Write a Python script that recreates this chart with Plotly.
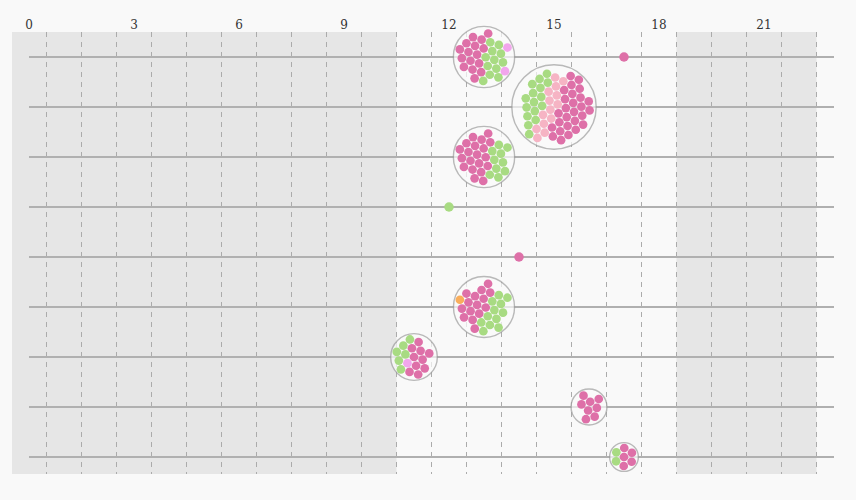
import math
import plotly.graph_objects as go

# one entry per group of dots: which row, which hour, and how many of each colour
rows = [0, 0, 1, 2, 3, 4, 5, 6, 7, 8]
hours = [13, 17, 15, 13, 12, 14, 13, 11, 16, 17]
pink = [16, 1, 27, 20, 0, 1, 15, 10, 8, 5]
green = [12, 0, 16, 10, 1, 0, 12, 6, 0, 2]
light_pink = [0, 0, 14, 0, 0, 0, 0, 0, 0, 0]
lavender = [2, 0, 0, 0, 0, 0, 0, 1, 0, 0]
orange = [0, 0, 0, 0, 0, 0, 1, 0, 0, 0]

tick_hours = [0, 3, 6, 9, 12, 15, 18, 21]
n_rows = 9

colors = {
    "pink": "#de70a8",
    "green": "#a8db82",
    "light_pink": "#f6b4c4",
    "lavender": "#f2a6ec",
    "orange": "#f9ae5c",
}
# colour order inside each bubble, swept along a slanted direction
orders = [
    ["pink", "green", "lavender"],
    ["pink"],
    ["green", "light_pink", "pink"],
    ["pink", "green"],
    ["green"],
    ["pink"],
    ["orange", "pink", "green"],
    ["green", "lavender", "pink"],
    ["pink"],
    ["green", "pink"],
]

counts = {
    "pink": pink,
    "green": green,
    "light_pink": light_pink,
    "lavender": lavender,
    "orange": orange,
}

PX_X = 35.0  # pixels per hour
PX_Y = 50.0  # pixels per row
DOT = 8.7
GAP = 9.0
SPREAD = 4.2


def push(pts):
    n = len(pts)
    for i in range(n):
        for j in range(i + 1, n):
            dx = pts[j][0] - pts[i][0]
            dy = pts[j][1] - pts[i][1]
            d = math.hypot(dx, dy) or 1e-6
            if d < GAP:
                m = (GAP - d) / 2 / d
                pts[i][0] -= dx * m
                pts[i][1] -= dy * m
                pts[j][0] += dx * m
                pts[j][1] += dy * m


def pack(n):
    # sunflower start, then squeeze toward the middle while dots push apart
    golden = math.pi * (3 - math.sqrt(5))
    pts = []
    for k in range(n):
        rr = SPREAD * math.sqrt(k + 0.5)
        pts.append([rr * math.cos(k * golden), rr * math.sin(k * golden)])
    for it in range(300):
        for p in pts:
            d = math.hypot(*p)
            if d > 0.3:
                p[0] -= 0.3 * p[0] / d
                p[1] -= 0.3 * p[1] / d
        for _ in range(3):
            push(pts)
    for _ in range(40):
        push(pts)
    # rough smallest enclosing circle
    cx = sum(p[0] for p in pts) / n
    cy = sum(p[1] for p in pts) / n
    for it in range(1, 2000):
        far = max(pts, key=lambda p: math.hypot(p[0] - cx, p[1] - cy))
        cx += (far[0] - cx) / (it + 1)
        cy += (far[1] - cy) / (it + 1)
    pts = [(p[0] - cx, p[1] - cy) for p in pts]
    rad = max(math.hypot(*p) for p in pts) + DOT / 2 + 1.0
    return pts, rad


fig = go.Figure()

# row lines
for r in range(n_rows):
    fig.add_trace(go.Scatter(
        x=[0, 23], y=[r, r], mode="lines",
        line=dict(color="#b0b0b0", width=1.8),
        hoverinfo="skip", showlegend=False
    ))

dot_x = {k: [] for k in colors}
dot_y = {k: [] for k in colors}
single_x = {k: [] for k in colors}
single_y = {k: [] for k in colors}
ring_x, ring_y, ring_s = [], [], []

for g in range(len(rows)):
    labels = []
    for c in orders[g]:
        labels += [c] * counts[c][g]
    n = len(labels)
    if n == 1:
        single_x[labels[0]].append(hours[g])
        single_y[labels[0]].append(rows[g])
        continue
    pts, rad = pack(n)
    pts.sort(key=lambda p: p[0] + 0.3 * p[1])
    ring_x.append(hours[g])
    ring_y.append(rows[g])
    ring_s.append(2 * rad)
    for (px, py), c in zip(pts, labels):
        dot_x[c].append(hours[g] + px / PX_X)
        dot_y[c].append(rows[g] + py / PX_Y)

fig.add_trace(go.Scatter(
    x=ring_x, y=ring_y, mode="markers",
    marker=dict(size=ring_s, color="#fbfbfb", line=dict(color="#9e9e9e", width=1.4)),
    hoverinfo="skip", showlegend=False, cliponaxis=False
))

for c, col in colors.items():
    fig.add_trace(go.Scatter(
        x=dot_x[c], y=dot_y[c], mode="markers",
        marker=dict(size=DOT, color=col, line=dict(width=0)),
        showlegend=False, cliponaxis=False
    ))
    fig.add_trace(go.Scatter(
        x=single_x[c], y=single_y[c], mode="markers",
        marker=dict(size=9.5, color=col, line=dict(width=0)),
        showlegend=False, cliponaxis=False
    ))

for x0, x1 in [(-0.5, 10.5), (18.5, 22.5)]:
    fig.add_shape(
        type="rect", x0=x0, x1=x1, y0=0, y1=1, yref="paper",
        fillcolor="#e6e6e6", line=dict(width=0), layer="below"
    )

fig.update_xaxes(
    side="top",
    range=[(12 - 29) / PX_X, (840 - 29) / PX_X],
    tickvals=tick_hours,
    ticktext=[str(t) for t in tick_hours],
    showgrid=False,
    zeroline=False,
    showline=False,
    ticks="",
    tickfont=dict(family="DejaVu Serif", size=12, color="#333"),
    minor=dict(
        tick0=0.5, dtick=1, showgrid=True,
        gridcolor="#ababab", gridwidth=1, griddash="5px,5px"
    ),
    fixedrange=True
)

fig.update_yaxes(
    range=[8.34, -0.5],
    showgrid=False,
    zeroline=False,
    showticklabels=False,
    fixedrange=True
)

fig.update_layout(
    width=856,
    height=500,
    margin=dict(l=12, r=16, t=32, b=26),
    paper_bgcolor="#f9f9f9",
    plot_bgcolor="#f9f9f9",
)

fig.write_html(
    "out.html",
    config={"displayModeBar": False},
    post_script="document.body.style.margin='0';document.body.style.background='#f9f9f9';"
)
